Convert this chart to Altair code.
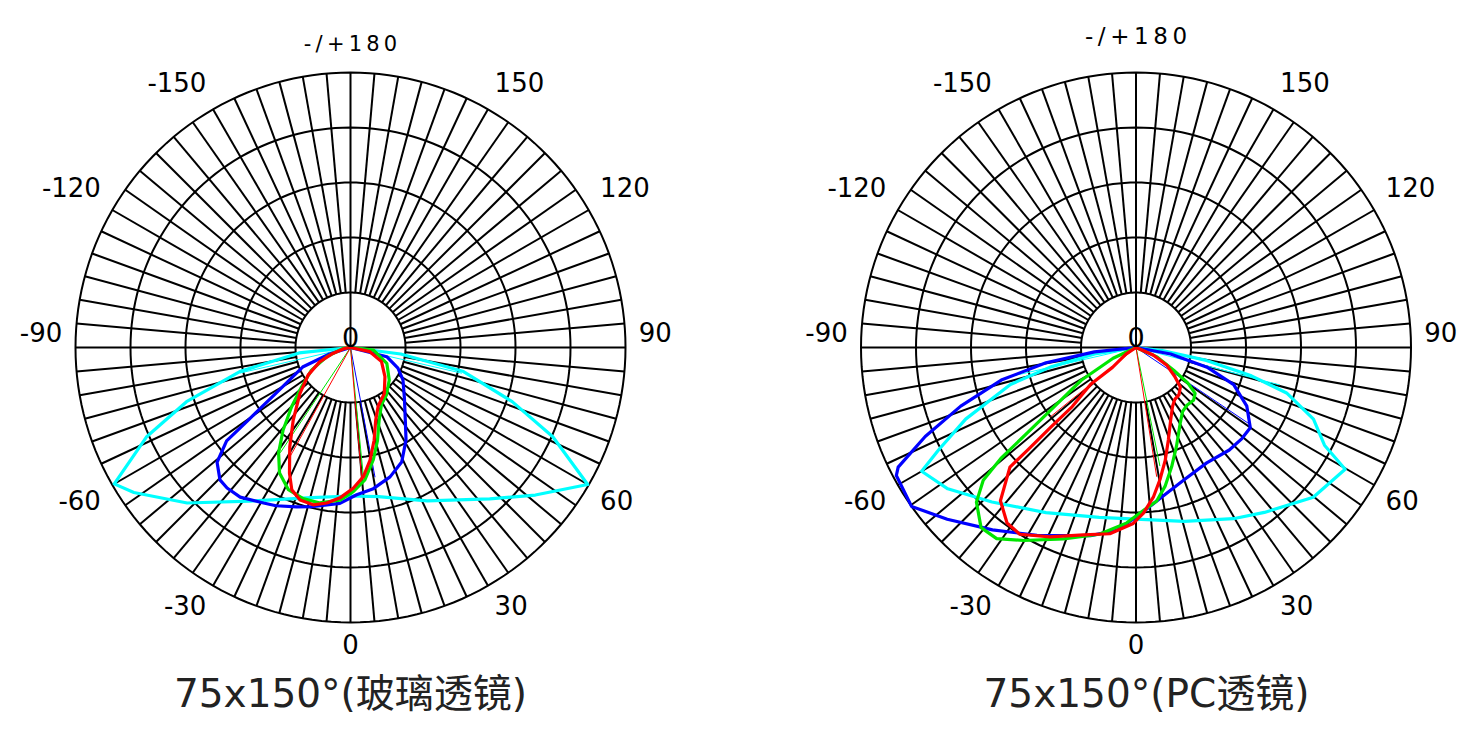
import altair as alt
import pandas as pd

# ---------------- data ----------------
RINGS = [50, 100, 150, 200, 250]                 # concentric grid circles (intensity units)
SPOKE_ANGLES = list(range(-175, 185, 5))         # radial grid every 5 degrees
LABEL_ANGLES = [150, 120, 90, 60, 30, 0, -30, -60, -90, -120, -150]
LABEL_TEXT = ["150", "120", "90", "60", "30", "0", "-30", "-60", "-90", "-120", "-150"]
TOP_LABEL = "-/+180"
CENTER_LABEL = "0"
TITLES = ["75x150°(玻璃透镜)", "75x150°(PC透镜)"]
SERIES = ["cyan", "blue", "green", "red"]

# --- glass lens ---
glass_cyan_ang = [-90, -84, -77.7, -71.7, -66.4, -60, -56.2, -46.4, -33.3, -14.5, 0, 10.6, 26.6, 42.6, 51.4, 60, 66.2, 71.5, 78, 82.6, 90]
glass_cyan_r = [0, 47, 103, 157, 202, 248, 237, 205, 167, 141, 135, 138, 156, 187, 215, 249, 201, 155, 105, 46, 0]

glass_blue_ang = [-90, -72.8, -67.8, -58.6, -54.7, -53, -49.3, -44.6, -41.3, -36.4, -29.2, -25.2, -18.7, -13.7, -3.9, 2.4, 9.2, 17, 24.1, 31, 36.9, 47, 58.4, 66.5, 75.7, 90]
glass_blue_r = [0, 20, 47, 79, 113, 141, 160, 169, 170, 169, 162, 159, 153, 149, 142, 134, 130, 123, 114, 98, 83, 67, 56, 47, 34, 0]

glass_green_ang = [-90, -83.7, -68.9, -59.9, -51.2, -44.8, -39.2, -34.3, -29.5, -23.6, -17.4, -11.1, -3.9, 1.1, 6.2, 11.5, 16.2, 21.5, 28.5, 37.3, 50, 66.4, 83.7, 90]
glass_green_r = [0, 6.5, 23, 41, 57, 76, 97, 116, 131, 141, 144, 144, 139, 131, 121, 104, 88, 71, 59, 54, 46, 36, 21, 0]

glass_red_ang = [-90, -81.7, -71.4, -65, -56.9, -47.8, -38.3, -31.4, -25.9, -22.4, -18.3, -13.3, -8.7, -4, 1.1, 5.7, 9.8, 14.3, 19.1, 25.2, 36.2, 49.8, 65.5, 77.8, 90]
glass_red_r = [0, 5, 17, 31, 46, 62, 84, 106, 127, 140, 146, 147, 143, 137, 128, 118, 104, 87, 70, 59, 52, 41, 31, 18, 0]

glass_thin_series = ["cyan", "cyan", "blue", "green", "green", "red", "red"]
glass_thin_ang = [-77, 77, 10.7, -33.7, 5.7, -29, 4.9]
glass_thin_r = [103, 104, 120, 115, 118, 113, 119]

# --- PC lens ---
pc_cyan_ang = [-90, -81, -77.1, -73.6, -67.2, -62.6, -60, -53.1, -43, -28.6, -12.2, 0, 15.5, 29.6, 37.9, 49.8, 59.8, 62.6, 68, 73.2, 76.2, 79.6, 83.4, 90]
pc_cyan_r = [0, 38, 80, 119, 168, 202, 225, 214, 192, 171, 158, 156, 164, 179, 190, 211, 220, 193, 174, 143, 108, 65, 24, 0]

pc_blue_ang = [-90, -84, -80.4, -76.4, -71.5, -67.1, -63.3, -61.9, -54.7, -47.7, -38.2, -27.8, -13.6, -5.9, 1.2, 9.8, 20, 31.5, 42.3, 49.3, 54.9, 62.1, 69.2, 74.5, 79.4, 90]
pc_blue_r = [0, 38, 83, 126, 168, 208, 242, 247, 250, 232, 211, 193, 176, 167, 152, 138, 128, 123, 126, 127, 127, 114, 95, 67, 32, 0]

pc_green_ang = [-90, -64.8, -59.1, -54.2, -51.9, -50.6, -49, -45.9, -40.7, -36.1, -30.2, -20.7, -11.1, -3.2, 2.8, 7.6, 11.8, 16.7, 22.3, 30.1, 36, 41.4, 47.5, 52.2, 55.6, 58.9, 66, 90]
pc_green_r = [0, 23, 58, 91, 125, 159, 184, 202, 216, 215, 203, 186, 173, 160, 148, 141, 129, 113, 97, 80, 72, 70, 71, 68, 57, 40, 21, 0]

pc_red_ang = [-90, -56.4, -49.8, -51, -47.2, -46.9, -46.6, -46.5, -41.5, -36.3, -31.9, -24.4, -15.7, -8, -0.9, 2.5, 6.6, 10.3, 14.5, 19.3, 25.6, 31.8, 36.6, 42.4, 48.3, 53.2, 60.3, 66.6, 90]
pc_red_r = [0, 11, 28, 53, 79, 107, 135, 158, 186, 198, 200, 189, 177, 171, 160, 151, 137, 122, 106, 89, 73, 63, 59, 58, 54, 44, 32, 17, 0]

pc_thin_series = ["cyan", "cyan", "blue", "green", "red", "red"]
pc_thin_ang = [-77, 75.4, 56, 11.4, 9.1, -51]
pc_thin_r = [120, 135, 123, 110, 119, 100]

# ---------------- styling / layout ----------------
COLORS = {"cyan": "#00FFFF", "blue": "#0000FF", "green": "#00E600", "red": "#FF0000"}
FONT = "DejaVu Sans"
TITLE_FONT = "DejaVu Sans, Noto Sans CJK SC"
K = 1.1            # pixels per intensity unit
H = 720
CY = 339.5         # centre row inside panel (px from top)
LABEL_R = 262      # anchor radius of the angle labels (units)
GRID_W = 2

curves = {
    0: {"cyan": (glass_cyan_ang, glass_cyan_r), "blue": (glass_blue_ang, glass_blue_r),
        "green": (glass_green_ang, glass_green_r), "red": (glass_red_ang, glass_red_r)},
    1: {"cyan": (pc_cyan_ang, pc_cyan_r), "blue": (pc_blue_ang, pc_blue_r),
        "green": (pc_green_ang, pc_green_r), "red": (pc_red_ang, pc_red_r)},
}
thins = {
    0: (glass_thin_series, glass_thin_ang, glass_thin_r),
    1: (pc_thin_series, pc_thin_ang, pc_thin_r),
}


def pol(r, a):
    return (f"{r}*sin({a}*PI/180)", f"-{r}*cos({a}*PI/180)")


def panel(i, width, cx_px, top_dy, top_font, title_dx):
    xs = alt.Scale(domain=[-cx_px / K, (width - cx_px) / K], nice=False, zero=False)
    ys = alt.Scale(domain=[-(H - CY) / K, CY / K], nice=False, zero=False)

    def X(f):
        return alt.X(f"{f}:Q", scale=xs, axis=None)

    def Y(f):
        return alt.Y(f"{f}:Q", scale=ys, axis=None)

    layers = []
    # rings
    px, py = pol("datum.ring", "datum.a")
    layers.append(alt.Chart(pd.DataFrame({"ring": RINGS}))
                  .transform_calculate(a="sequence(0, 361, 2)")
                  .transform_flatten(["a"])
                  .transform_calculate(x=px, y=py)
                  .mark_line(color="black", strokeWidth=GRID_W)
                  .encode(x=X("x"), y=Y("y"), detail="ring:N", order="a:Q"))
    # spokes
    x0, y0 = pol("datum.r0", "datum.a")
    x1, y1 = pol("datum.r1", "datum.a")
    layers.append(alt.Chart(pd.DataFrame({"a": SPOKE_ANGLES}))
                  .transform_calculate(r0=f"(abs(datum.a)==90 || datum.a==180) ? 0 : {RINGS[0]}",
                                       r1=f"{RINGS[-1]}")
                  .transform_calculate(x0=x0, y0=y0, x1=x1, y1=y1)
                  .mark_rule(color="black", strokeWidth=GRID_W)
                  .encode(x=X("x0"), y=Y("y0"), x2="x1:Q", y2="y1:Q"))
    # thin chords from the centre
    ts, ta, tr = thins[i]
    tx0, ty0 = pol("0", "datum.a")
    tx1, ty1 = pol("datum.r", "datum.a")
    layers.append(alt.Chart(pd.DataFrame({"series": ts, "a": ta, "r": tr}))
                  .transform_calculate(x0=tx0, y0=ty0, x1=tx1, y1=ty1)
                  .mark_rule(strokeWidth=1)
                  .encode(x=X("x0"), y=Y("y0"), x2="x1:Q", y2="y1:Q",
                          color=alt.Color("series:N",
                                          scale=alt.Scale(domain=SERIES, range=[COLORS[s] for s in SERIES]),
                                          legend=None)))
    # curves
    cx, cy = pol("datum.r", "datum.a")
    for s in SERIES:
        ang, rr = curves[i][s]
        df = pd.DataFrame({"idx": list(range(len(ang))), "a": ang, "r": rr})
        layers.append(alt.Chart(df).transform_calculate(x=cx, y=cy)
                      .mark_line(color=COLORS[s], strokeWidth=3.2, strokeJoin="round", strokeCap="round")
                      .encode(x=X("x"), y=Y("y"), order="idx:Q"))
    # angle labels: anchored at their inner edge
    lx, ly = pol(str(LABEL_R), "datum.a")
    ldf = pd.DataFrame({"a": LABEL_ANGLES, "text": LABEL_TEXT})
    groups = [
        ("datum.a >= 90", "left", -14),
        ("datum.a > 0 && datum.a < 90", "left", 10),
        ("datum.a == 0", "center", 10),
        ("datum.a < 0 && datum.a > -90", "right", 10),
        ("datum.a <= -90", "right", -14),
    ]
    for flt, al, dy in groups:
        layers.append(alt.Chart(ldf).transform_filter(flt).transform_calculate(x=lx, y=ly)
                      .mark_text(font=FONT, fontSize=26, align=al, baseline="middle", color="black", dy=dy)
                      .encode(x=X("x"), y=Y("y"), text="text:N"))
    layers.append(alt.Chart(pd.DataFrame({"a": [180], "text": ["\u2009".join(TOP_LABEL)]}))
                  .transform_calculate(x=lx, y=ly)
                  .mark_text(font=FONT, fontSize=top_font, align="center", baseline="middle", color="black",
                             dy=top_dy)
                  .encode(x=X("x"), y=Y("y"), text="text:N"))
    layers.append(alt.Chart(pd.DataFrame({"text": [CENTER_LABEL]}))
                  .transform_calculate(x="0", y="0")
                  .mark_text(font=FONT, fontSize=27, align="center", baseline="alphabetic", color="black", dy=-1)
                  .encode(x=X("x"), y=Y("y"), text="text:N"))
    # title
    layers.append(alt.Chart(pd.DataFrame({"text": [TITLES[i]]}))
                  .transform_calculate(x=f"{title_dx}", y=f"{-(707 - 347.5) / K}")
                  .mark_text(font=TITLE_FONT, fontSize=39, align="center", baseline="alphabetic", color="#222222")
                  .encode(x=X("x"), y=Y("y"), text="text:N"))
    return alt.layer(*layers).properties(width=width, height=H)


left = panel(0, 785, 342.5, -14, 21, 0)
right = panel(1, 666, 343, -22, 23, 9.5)

chart = (alt.hconcat(left, right, spacing=0, bounds="flush")
         .properties(padding=0)
         .configure_view(stroke=None))

chart.save("out.html", embed_options={"renderer": "svg", "actions": False})
